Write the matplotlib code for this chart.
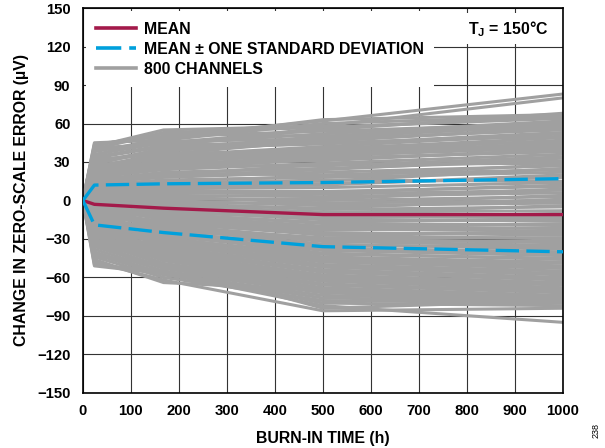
import numpy as np
import matplotlib
matplotlib.use("Agg")
import matplotlib.pyplot as plt

plt.rcParams['font.family'] = ['Liberation Sans', 'DejaVu Sans']
plt.rcParams['font.weight'] = 'bold'
plt.rcParams['mathtext.fontset'] = 'custom'
plt.rcParams['mathtext.rm'] = 'Liberation Sans:bold'
plt.rcParams['mathtext.bf'] = 'Liberation Sans:bold'

# burn-in time points (h)
hours = [0, 24, 168, 500, 1000]

# mean and mean +/- one standard deviation (uV)
mean_err = [0, -3, -6, -11, -11]
mean_plus_sd = [0, 12, 13, 14, 17]
mean_minus_sd = [0, -19, -25, -36, -40]

# sample of channel traces, values at 24, 168, 500, 1000 h (start at 0)
channels = [
    [44, 50, 62, 83], [42, 55, 58, 80], [45, 47, 60, 66], [40, 53, 57, 64],
    [38, 48, 63, 67], [43, 52, 50, 58], [36, 45, 55, 68], [41, 44, 52, 62],
    [35, 50, 54, 60], [33, 42, 57, 65], [39, 46, 48, 55], [30, 40, 50, 61],
    [34, 43, 46, 57], [31, 38, 49, 59], [28, 41, 44, 53], [32, 36, 47, 56],
    [27, 35, 42, 52], [29, 39, 45, 50], [25, 33, 40, 49], [26, 37, 38, 47],
    [24, 30, 36, 45], [22, 32, 39, 43], [23, 28, 34, 44], [20, 29, 31, 40],
    [21, 26, 33, 38], [18, 24, 29, 36], [19, 27, 27, 34], [16, 22, 25, 31],
    [17, 20, 28, 29], [14, 18, 22, 27], [15, 21, 20, 24], [12, 16, 18, 22],
    [13, 14, 15, 25], [10, 12, 13, 18], [11, 13, 16, 15], [8, 10, 10, 14],
    [9, 8, 7, 11], [6, 6, 5, 8], [7, 4, 3, 6], [4, 2, 0, 3],
    [5, 3, -2, 0], [2, 0, -4, -2], [3, -2, -7, -5], [0, -4, -9, -8],
    [1, -5, -11, -11], [-2, -7, -13, -13], [-1, -8, -15, -16], [-4, -10, -18, -19],
    [-3, -12, -20, -22], [-6, -14, -22, -24], [-5, -15, -25, -27], [-8, -17, -27, -30],
    [-7, -19, -30, -33], [-10, -20, -32, -35], [-9, -22, -34, -38], [-12, -24, -37, -40],
    [-11, -26, -39, -43], [-14, -27, -41, -46], [-13, -29, -44, -48], [-16, -31, -46, -51],
    [-15, -33, -48, -53], [-18, -34, -50, -55], [-17, -36, -52, -58], [-20, -38, -54, -60],
    [-22, -39, -56, -62], [-21, -41, -58, -64], [-24, -42, -60, -66], [-26, -44, -61, -68],
    [-25, -46, -63, -69], [-28, -47, -65, -71], [-30, -49, -66, -72], [-32, -50, -68, -74],
    [-34, -52, -69, -75], [-36, -53, -71, -76], [-38, -55, -72, -77], [-40, -57, -74, -78],
    [-42, -58, -76, -79], [-44, -60, -78, -80], [-50, -55, -80, -82], [-46, -64, -70, -75],
    [-48, -62, -86, -84], [-51, -57, -82, -95], [-43, -50, -84, -78],
    [19, 25, 32, 39], [15, 19, 24, 33], [12, 15, 19, 28], [9, 11, 12, 20],
    [6, 7, 6, 12], [3, 1, 1, 9], [1, -1, -3, 4], [-1, -3, -6, 1],
    [-3, -6, -10, -4], [-5, -9, -14, -10], [-7, -11, -17, -14], [-9, -13, -21, -18],
    [-11, -16, -23, -21], [-13, -18, -26, -25], [-15, -21, -29, -29], [-17, -23, -31, -32],
    [-19, -25, -35, -36], [-21, -28, -38, -41], [-23, -30, -42, -45], [-25, -32, -45, -49],
    [-27, -35, -47, -52], [-29, -37, -51, -57], [-31, -40, -55, -61], [-33, -43, -59, -65],
    [-35, -45, -62, -70], [21, 27, 35, 41], [24, 31, 37, 42], [26, 34, 41, 46],
]

x_ticks = list(range(0, 1001, 100))
y_ticks = list(range(-150, 151, 30))

GRAY = '#a0a0a0'
CRIMSON = '#a31a4a'
CYAN = '#00a0dc'
DASH = (0, (7, 2.2))

fig = plt.figure(figsize=(6.05, 4.48), dpi=100)
ax = fig.add_axes([0.137, 0.123, 0.7936, 0.859])

for i, ch in enumerate(channels):
    ax.plot(hours, [0] + ch, color=GRAY, lw=2.2, zorder=2,
            label='800 CHANNELS' if i == 0 else None)

ax.plot(hours, mean_err, color=CRIMSON, lw=2.4, zorder=4, label='MEAN')
ax.plot(hours, mean_plus_sd, color=CYAN, lw=2.4, ls=DASH, zorder=4,
        label='MEAN ± ONE STANDARD DEVIATION')
ax.plot(hours, mean_minus_sd, color=CYAN, lw=2.4, ls=DASH, zorder=4)

ax.set_xlim(0, 1000)
ax.set_ylim(-150, 150)
ax.set_xticks(x_ticks)
ax.set_yticks(y_ticks)
ax.tick_params(length=0, labelsize=10.7)
ax.tick_params(axis='y', pad=9)
ax.tick_params(axis='x', pad=8)
ax.grid(True, color='#333333', lw=0.8)
ax.set_axisbelow(True)
for s in ax.spines.values():
    s.set_linewidth(1.2)
    s.set_color('black')

ax.set_xlabel('BURN-IN TIME (h)', fontsize=11.4, fontweight='bold', labelpad=9)
ax.set_ylabel('CHANGE IN ZERO-SCALE ERROR (µV)', fontsize=11.4, fontweight='bold',
              labelpad=6)

handles, labels = ax.get_legend_handles_labels()
order = [labels.index('MEAN'), labels.index('MEAN ± ONE STANDARD DEVIATION'),
         labels.index('800 CHANNELS')]
leg = ax.legend([handles[k] for k in order], [labels[k] for k in order],
                loc='upper left', fontsize=11.4, frameon=True, fancybox=False,
                edgecolor='none', framealpha=1, handlelength=2.5,
                borderaxespad=0.2, borderpad=0.65, labelspacing=0.32,
                handletextpad=0.5)
leg.set_zorder(5)
for h in leg.legend_handles:
    h.set_linewidth(2.6)

ax.text(0.97, 0.972, r'$\mathbf{T_J}$ = 150°C', transform=ax.transAxes,
        ha='right', va='top', fontsize=11.4, fontweight='bold', zorder=5,
        bbox=dict(facecolor='white', edgecolor='none', pad=4))

fig.text(0.985, 0.04, '238', rotation=90, fontsize=6.5, fontweight='normal',
         ha='center', va='center')

fig.savefig('out.png', dpi=100)
